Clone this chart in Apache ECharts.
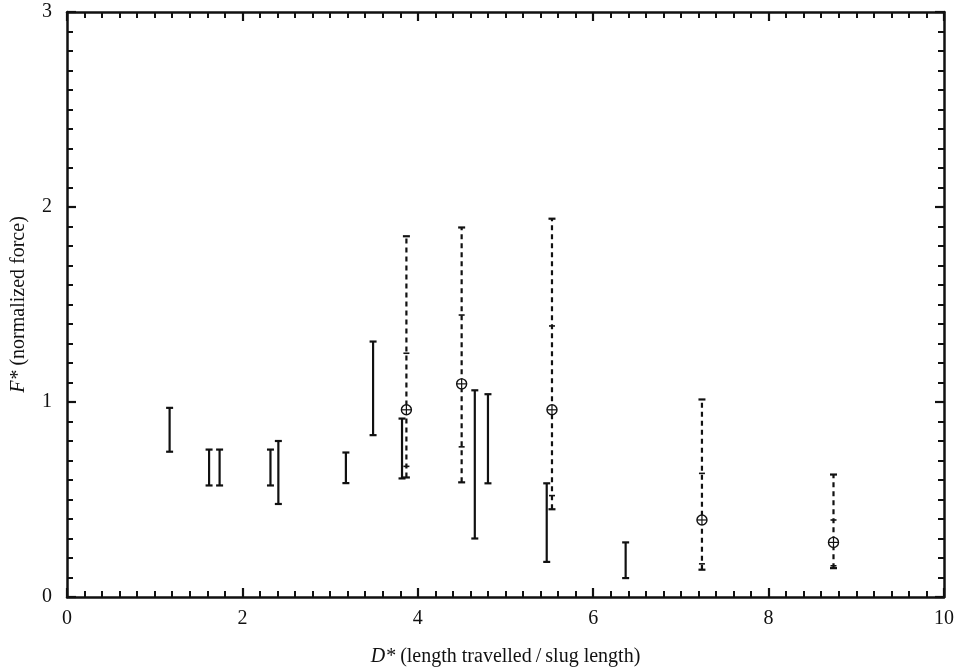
<!DOCTYPE html>
<html>
<head>
<meta charset="utf-8">
<script src="https://cdn.jsdelivr.net/npm/echarts@6/dist/echarts.min.js"></script>
<style>
html, body { margin: 0; padding: 0; background: #fff; }
#chart { width: 965px; height: 672px; }
</style>
</head>
<body>
<div id="chart"></div>
<script>
// solid error bars (range only)
var solidX    = [1.17, 1.62, 1.74, 2.32, 2.41, 3.18, 3.49, 3.82, 4.65, 4.80, 5.47, 6.37];
var solidLow  = [0.745, 0.572, 0.572, 0.572, 0.477, 0.584, 0.83, 0.608, 0.30, 0.583, 0.18, 0.097];
var solidHigh = [0.97, 0.756, 0.756, 0.756, 0.80, 0.741, 1.31, 0.915, 1.06, 1.04, 0.583, 0.28];

// dashed error bars with mean marker
var dashX     = [3.87, 4.50, 5.53, 7.24, 8.74];
var dashLow   = [0.613, 0.588, 0.45, 0.14, 0.148];
var dashHigh  = [1.85, 1.895, 1.94, 1.013, 0.628];
var dashMean  = [0.96, 1.093, 0.96, 0.395, 0.28];
var dashUpper = [1.25, 1.446, 1.39, 0.634, 0.395];
var dashLower = [0.67, 0.77, 0.52, 0.17, 0.16];

var xTicks = [0, 2, 4, 6, 8, 10];
var yTicks = [0, 1, 2, 3];

var chart = echarts.init(document.getElementById('chart'));
var ink = '#111';
var font = 'Liberation Serif';

function capLine(x, y, w, lw) {
  return { type: 'line', shape: { x1: x - w, y1: y, x2: x + w, y2: y }, style: { stroke: ink, lineWidth: lw } };
}

function solidItem(params, api) {
  var lo = api.coord([api.value(0), api.value(1)]);
  var hi = api.coord([api.value(0), api.value(2)]);
  return {
    type: 'group',
    children: [
      { type: 'line', shape: { x1: lo[0], y1: lo[1], x2: hi[0], y2: hi[1] }, style: { stroke: ink, lineWidth: 2.2 } },
      capLine(lo[0], lo[1], 3.5, 2.2),
      capLine(hi[0], hi[1], 3.5, 2.2)
    ]
  };
}

function dashItem(params, api) {
  var x = api.value(0);
  var lo = api.coord([x, api.value(1)]);
  var hi = api.coord([x, api.value(2)]);
  var mid = api.coord([x, api.value(3)]);
  var up = api.coord([x, api.value(4)]);
  var dn = api.coord([x, api.value(5)]);
  var r = 5;
  return {
    type: 'group',
    children: [
      { type: 'line', shape: { x1: lo[0], y1: lo[1], x2: hi[0], y2: hi[1] }, style: { stroke: ink, lineWidth: 2.2, lineDash: [5, 4] } },
      capLine(lo[0], lo[1], 3.5, 2.2),
      capLine(hi[0], hi[1], 3.5, 2.2),
      capLine(up[0], up[1], 3, 1.6),
      capLine(dn[0], dn[1], 3, 1.6),
      { type: 'circle', shape: { cx: mid[0], cy: mid[1], r: r }, style: { fill: '#fff', stroke: ink, lineWidth: 1.4 } },
      { type: 'line', shape: { x1: mid[0] - r, y1: mid[1], x2: mid[0] + r, y2: mid[1] }, style: { stroke: ink, lineWidth: 1.2 } },
      { type: 'line', shape: { x1: mid[0], y1: mid[1] - r, x2: mid[0], y2: mid[1] + r }, style: { stroke: ink, lineWidth: 1.2 } }
    ]
  };
}

var solidData = solidX.map(function (x, i) { return [x, solidLow[i], solidHigh[i]]; });
var dashData = dashX.map(function (x, i) { return [x, dashLow[i], dashHigh[i], dashMean[i], dashUpper[i], dashLower[i]]; });

var axisLine = { show: true, onZero: false, lineStyle: { color: ink, width: 2.5 } };
var tickStyle = { show: true, inside: true, length: 9, lineStyle: { color: ink, width: 2.2 } };
var minorStyle = { show: true, splitNumber: 10, length: 6, lineStyle: { color: ink, width: 2 } };

function xAx(pos, labels) {
  return {
    type: 'value', position: pos, min: xTicks[0], max: xTicks[xTicks.length - 1], interval: 2,
    axisLine: axisLine, axisTick: tickStyle, minorTick: minorStyle, splitLine: { show: false },
    axisLabel: { show: labels, color: ink, fontFamily: font, fontSize: 20, margin: 12 }
  };
}
function yAx(pos, labels) {
  return {
    type: 'value', position: pos, min: yTicks[0], max: yTicks[yTicks.length - 1], interval: 1,
    axisLine: axisLine, axisTick: tickStyle, minorTick: minorStyle, splitLine: { show: false },
    axisLabel: { show: labels, color: ink, fontFamily: font, fontSize: 20, margin: 15 }
  };
}

var xBottom = xAx('bottom', true);
xBottom.name = '{i|D*} (length travelled\u2009/\u2009slug length)';
xBottom.nameLocation = 'middle';
xBottom.nameGap = 50;
xBottom.nameTextStyle = { color: ink, fontFamily: font, fontSize: 20, rich: { i: { fontStyle: 'italic', fontFamily: font, fontSize: 20, color: ink } } };

var yLeft = yAx('left', true);
yLeft.name = '{i|F*} (normalized force)';
yLeft.nameLocation = 'middle';
yLeft.nameGap = 38;
yLeft.nameTextStyle = { color: ink, fontFamily: font, fontSize: 20, rich: { i: { fontStyle: 'italic', fontFamily: font, fontSize: 20, color: ink } } };

var option = {
  backgroundColor: '#fff',
  animation: false,
  grid: { left: 67, right: 21, top: 12, bottom: 73 },
  xAxis: [xBottom, xAx('top', false)],
  yAxis: [yLeft, yAx('right', false)],
  series: [
    { type: 'custom', name: 'solid', renderItem: solidItem, data: solidData, encode: { x: 0, y: [1, 2] } },
    { type: 'custom', name: 'dashed', renderItem: dashItem, data: dashData, encode: { x: 0, y: [1, 2] } }
  ]
};
chart.setOption(option);
</script>
</body>
</html>
